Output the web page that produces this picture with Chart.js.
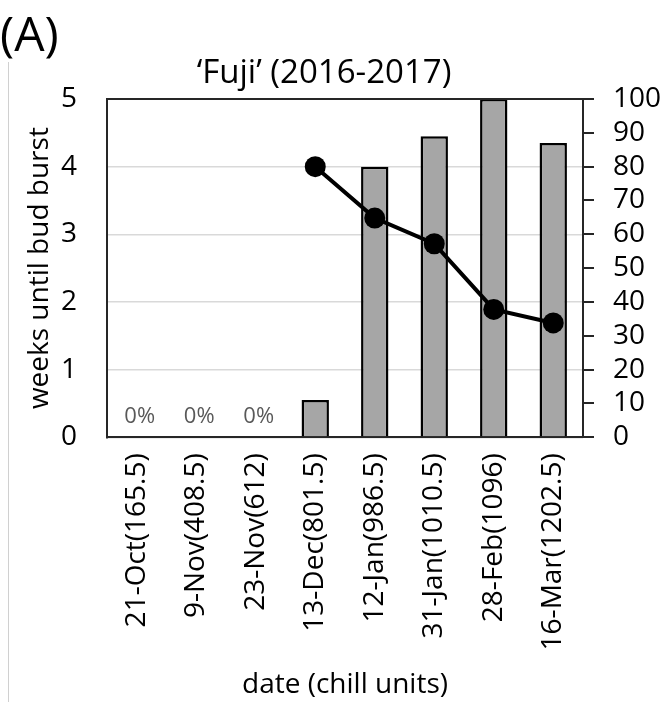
<!DOCTYPE html>
<html>
<head>
<meta charset="utf-8">
<script src="https://cdn.jsdelivr.net/npm/chart.js@4/dist/chart.umd.min.js"></script>
<style>
  html, body { margin: 0; padding: 0; background: #fff; }
  #wrap { width: 662px; height: 702px; position: relative; }
</style>
</head>
<body>
<div id="wrap"><canvas id="c" width="662" height="702"></canvas></div>
<script>
// Sampling dates with accumulated chill units
const dates = ['21-Oct(165.5)', '9-Nov(408.5)', '23-Nov(612)', '13-Dec(801.5)',
               '12-Jan(986.5)', '31-Jan(1010.5)', '28-Feb(1096)', '16-Mar(1202.5)'];
// Bud burst percentage (right axis)
const budBurstPct = [0, 0, 0, 11, 80, 89, 100, 87];
// Weeks until bud burst (left axis); no value before bud burst started
const weeksToBurst = [null, null, null, 4.0, 3.24, 2.86, 1.89, 1.69];
const leftTicks = [0, 1, 2, 3, 4, 5];
const rightTicks = [0, 10, 20, 30, 40, 50, 60, 70, 80, 90, 100];
const panelLetter = '(A)';
const chartTitle = '\u2018Fuji\u2019 (2016-2017)';

const FONT = "'Open Sans', 'Noto Sans', sans-serif";
const AXIS = '#262626';

// Panel letter, title, left rule, top frame line and zero-value labels
const decor = {
  id: 'decor',
  afterDraw(chart) {
    const { ctx, chartArea } = chart;
    ctx.save();
    ctx.fillStyle = '#000';
    ctx.textBaseline = 'alphabetic';
    ctx.textAlign = 'left';
    ctx.font = `48px ${FONT}`;
    ctx.fillText(panelLetter, 0, 51);

    ctx.textAlign = 'center';
    ctx.font = `33px ${FONT}`;
    ctx.fillText(chartTitle, 324, 83);

    ctx.strokeStyle = '#d0d0d0';
    ctx.lineWidth = 1;
    ctx.beginPath();
    ctx.moveTo(8.5, 62);
    ctx.lineTo(8.5, 702);
    ctx.stroke();

    ctx.strokeStyle = AXIS;
    ctx.lineWidth = 2;
    ctx.beginPath();
    ctx.moveTo(chartArea.left, chartArea.top);
    ctx.lineTo(chartArea.right, chartArea.top);
    ctx.stroke();

    const meta = chart.getDatasetMeta(1);
    const y1 = chart.scales.y1;
    ctx.fillStyle = '#595959';
    ctx.font = `22px ${FONT}`;
    ctx.textAlign = 'center';
    budBurstPct.forEach((v, i) => {
      if (v === 0) {
        const x = meta.data[i].x;
        ctx.fillText(v + '%', x + 3, y1.getPixelForValue(v) - 14);
      }
    });
    ctx.restore();
  }
};

new Chart(document.getElementById('c'), {
  data: {
    labels: dates,
    datasets: [
      {
        type: 'line',
        data: weeksToBurst,
        yAxisID: 'y',
        borderColor: '#000',
        borderWidth: 4,
        pointRadius: 10.5,
        pointBackgroundColor: '#000',
        pointBorderColor: '#000',
        pointBorderWidth: 0,
        spanGaps: false,
        order: 0
      },
      {
        type: 'bar',
        data: budBurstPct,
        yAxisID: 'y1',
        backgroundColor: '#a6a6a6',
        borderColor: '#000',
        borderWidth: 2.5,
        barPercentage: 0.46,
        categoryPercentage: 1.0,
        order: 1
      }
    ]
  },
  options: {
    responsive: false,
    animation: false,
    layout: { padding: { left: 20, right: 0, top: 99, bottom: 0 } },
    plugins: {
      legend: { display: false },
      tooltip: { enabled: false },
      title: { display: false }
    },
    scales: {
      x: {
        grid: { display: false },
        border: { color: AXIS, width: 2 },
        ticks: {
          color: '#000',
          font: { family: FONT, size: 28 },
          minRotation: 90,
          maxRotation: 90,
          padding: 8
        },
        title: {
          display: true,
          text: 'date (chill units)',
          color: '#000',
          font: { family: FONT, size: 28 },
          padding: { top: 10, bottom: 0 }
        }
      },
      y: {
        position: 'left',
        min: 0,
        max: 5,
        afterBuildTicks(scale) { scale.ticks = leftTicks.map(v => ({ value: v })); },
        afterFit(scale) { scale.width = 87; },
        grid: { color: '#d9d9d9', lineWidth: 1.5, drawTicks: false },
        border: { color: AXIS, width: 2 },
        ticks: { color: '#000', font: { family: FONT, size: 28 }, padding: 30 },
        title: {
          display: true,
          text: 'weeks until bud burst',
          color: '#000',
          font: { family: FONT, size: 28 },
          padding: { top: 3, bottom: 4 }
        }
      },
      y1: {
        position: 'right',
        min: 0,
        max: 100,
        afterBuildTicks(scale) { scale.ticks = rightTicks.map(v => ({ value: v })); },
        afterFit(scale) { scale.width = 79; },
        grid: { drawOnChartArea: false, color: AXIS, lineWidth: 2, tickLength: 11 },
        border: { color: AXIS, width: 2 },
        ticks: { color: '#000', font: { family: FONT, size: 28 }, padding: 19, autoSkip: false }
      }
    }
  },
  plugins: [decor]
});
</script>
</body>
</html>
